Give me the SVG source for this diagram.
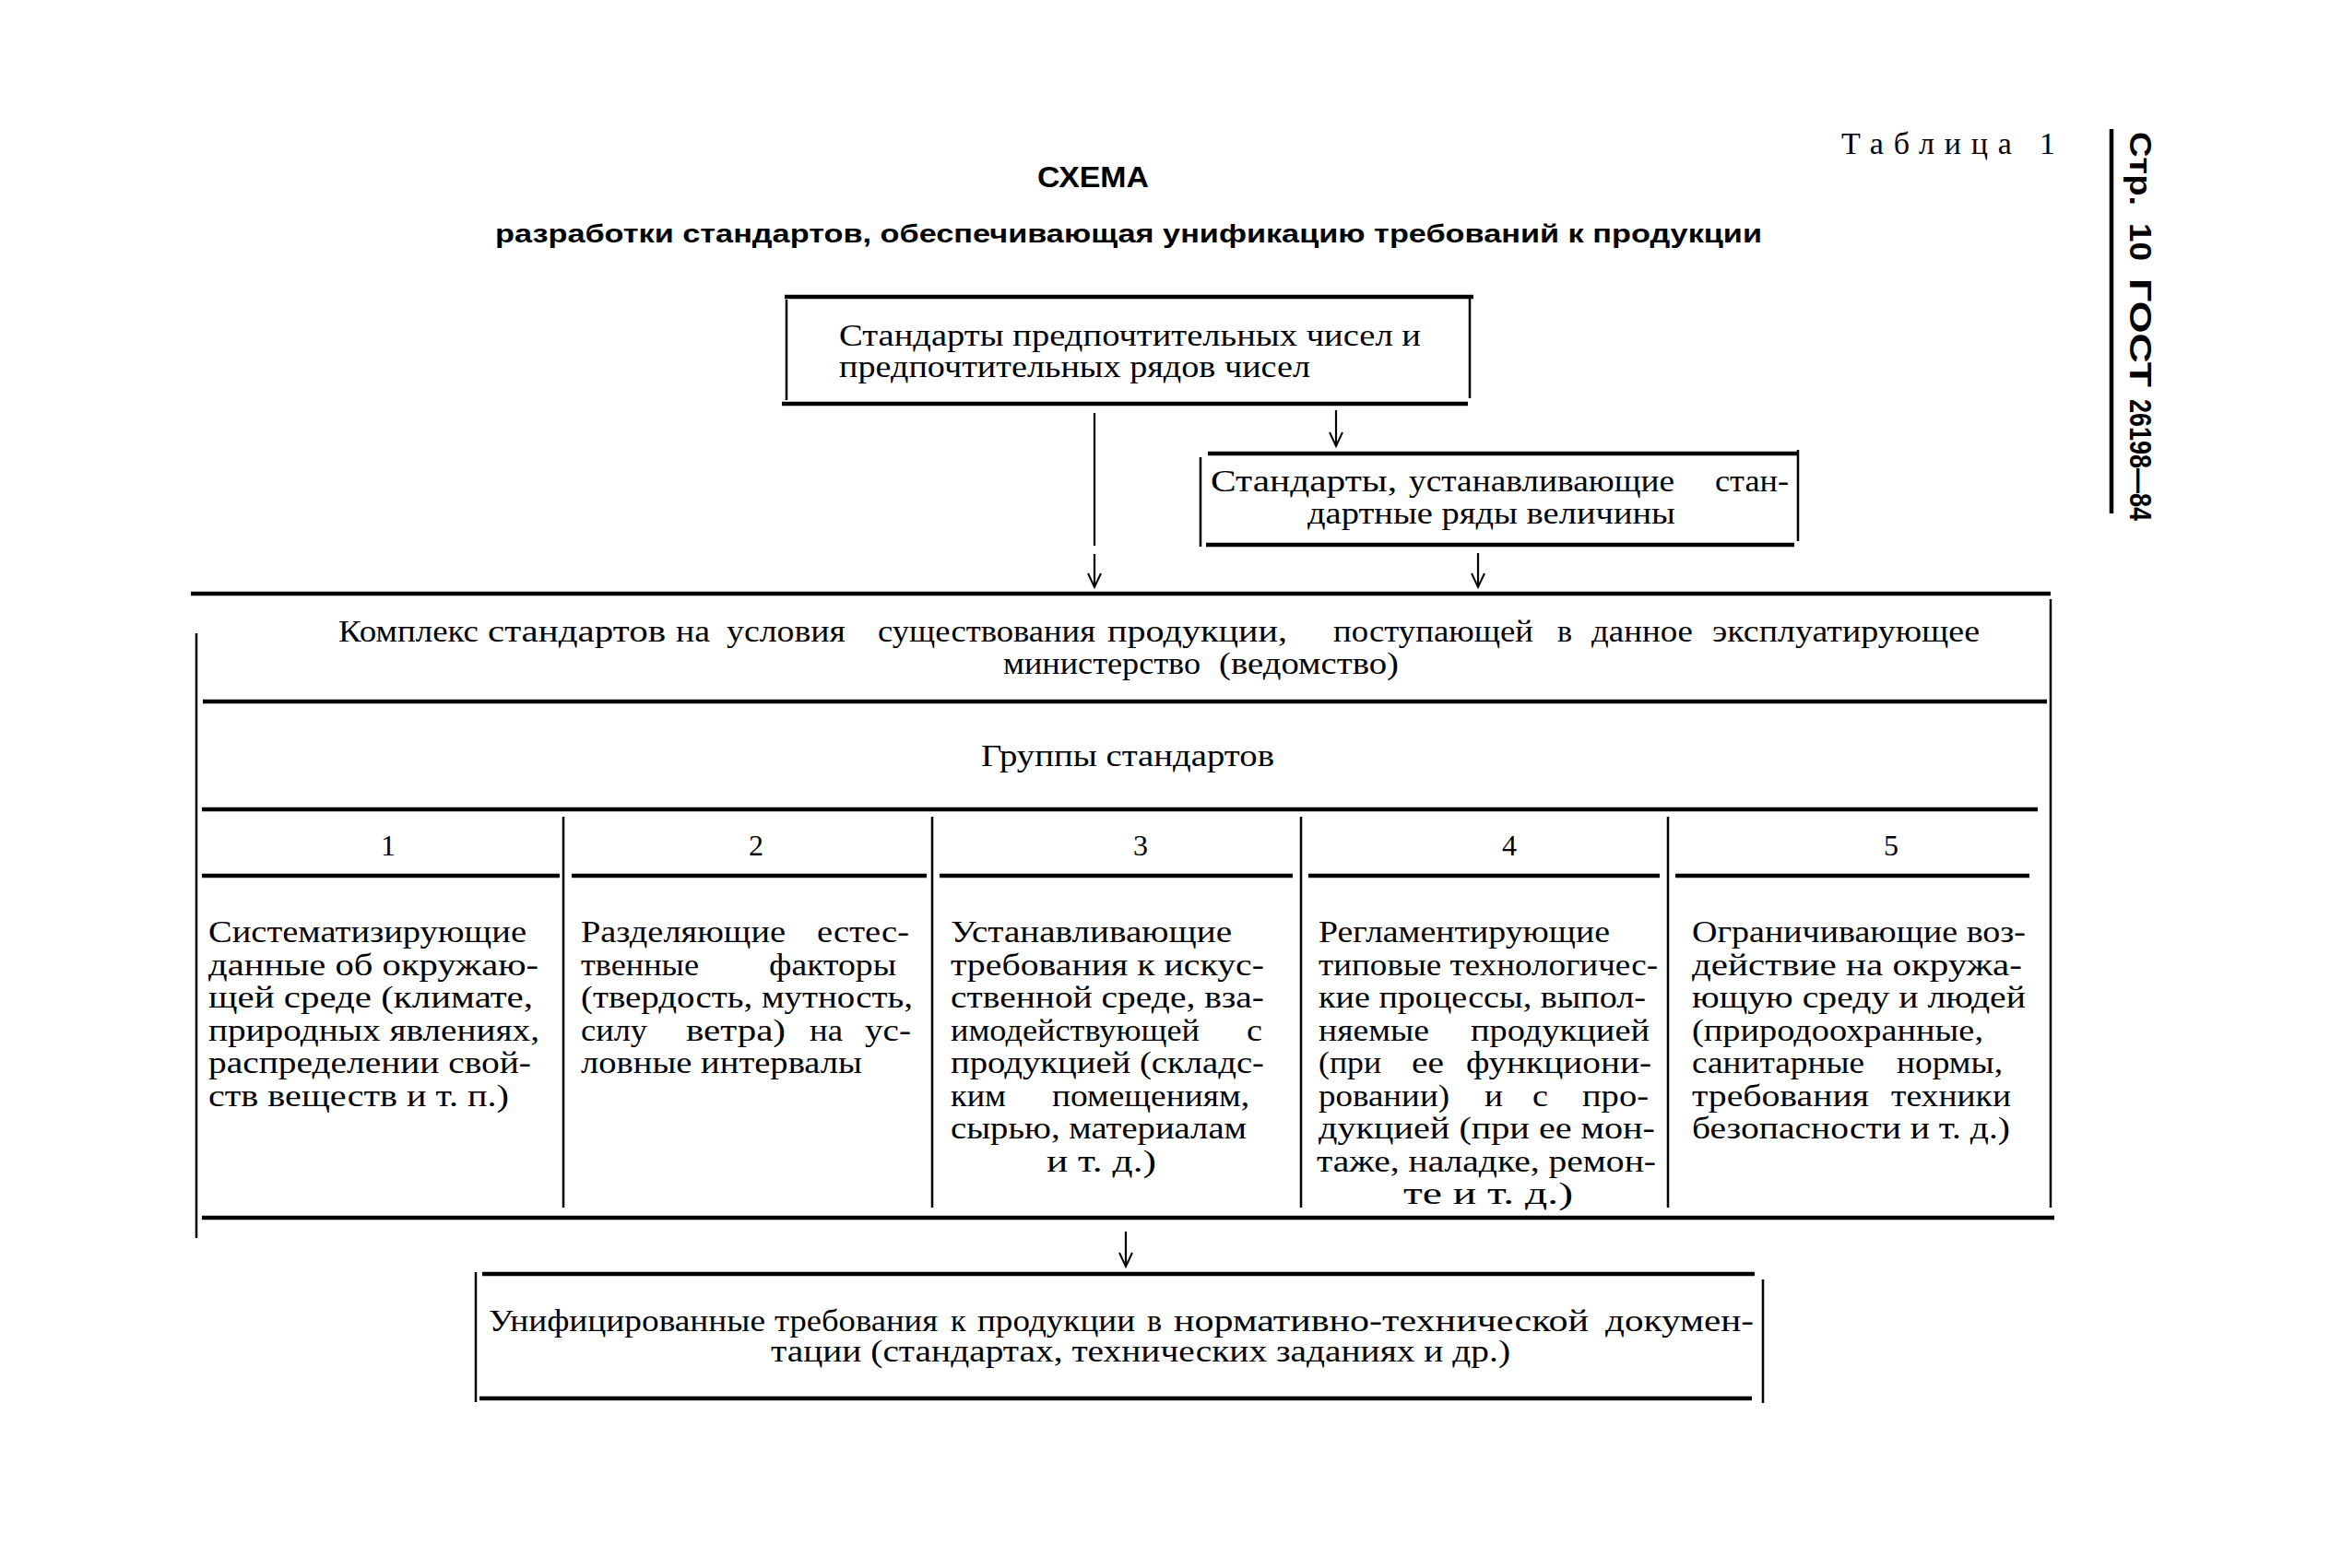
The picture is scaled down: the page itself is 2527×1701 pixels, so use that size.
<svg xmlns="http://www.w3.org/2000/svg" width="2527" height="1701" viewBox="0 0 2527 1701">
<style>
.t{font-family:"Liberation Serif","Times New Roman",serif;font-size:34px;fill:#000}
.c{font-family:"Liberation Serif","Times New Roman",serif;font-size:33px;fill:#000}
.e{text-anchor:end}
.n{font-family:"Liberation Serif","Times New Roman",serif;font-size:32px;fill:#000;text-anchor:middle}
.h{font-family:"Liberation Sans",Arial,sans-serif;font-weight:bold;fill:#000}
.rule{stroke:#000;stroke-width:4.5;fill:none}
.thin{stroke:#000;stroke-width:2.5;fill:none}
.conn{stroke:#000;stroke-width:2.2;fill:none}
</style>
<defs>
<marker id="arr" markerUnits="userSpaceOnUse" markerWidth="20" markerHeight="20" refX="0" refY="0" orient="auto" overflow="visible">
<path d="M-15,-7 L0,0 L-15,7" stroke="#000" stroke-width="2" fill="none"/>
</marker>
</defs>
<rect width="2527" height="1701" fill="#fff"/>

<g id="header">
<text class="t" x="1997" y="167" font-size="40" textLength="232" lengthAdjust="spacing">Таблица 1</text>
<text class="h" x="1125" y="203" font-size="32" textLength="121" lengthAdjust="spacingAndGlyphs">СХЕМА</text>
<text class="h" x="537" y="263" font-size="27" textLength="1374" lengthAdjust="spacingAndGlyphs">разработки стандартов, обеспечивающая унификацию требований к продукции</text>
<line class="rule" x1="2290" y1="140" x2="2290" y2="557" stroke-width="3.5"/>
<text class="h" font-size="33" transform="translate(2310,0) rotate(90)"><tspan x="143" y="0" textLength="80" lengthAdjust="spacingAndGlyphs">Стр.</tspan><tspan x="242" y="0" textLength="41" lengthAdjust="spacingAndGlyphs">10</tspan><tspan x="302" y="0" textLength="118" lengthAdjust="spacingAndGlyphs">ГОСТ</tspan><tspan x="433" y="0" textLength="132" lengthAdjust="spacingAndGlyphs">26198—84</tspan></text>
</g>

<g id="node-preferred-numbers">
<line class="rule" x1="851" y1="322" x2="1598" y2="322"/>
<line class="rule" x1="848" y1="438" x2="1592" y2="438"/>
<line class="thin" x1="853" y1="325" x2="853" y2="434"/>
<line class="thin" x1="1594" y1="322" x2="1594" y2="432"/>
<text class="t" x="910" y="375" textLength="631" lengthAdjust="spacingAndGlyphs">Стандарты предпочтительных чисел и</text>
<text class="t" x="910" y="409" textLength="511" lengthAdjust="spacingAndGlyphs">предпочтительных рядов чисел</text>
</g>

<g id="node-standard-series">
<line class="rule" x1="1310" y1="492" x2="1950" y2="492"/>
<line class="rule" x1="1308" y1="591" x2="1946" y2="591"/>
<line class="thin" x1="1302" y1="496" x2="1302" y2="593"/>
<line class="thin" x1="1950" y1="488" x2="1950" y2="587"/>
<text class="t" y="533"><tspan x="1313" textLength="202" lengthAdjust="spacingAndGlyphs">Стандарты,</tspan><tspan x="1528" textLength="288" lengthAdjust="spacingAndGlyphs">устанавливающие</tspan><tspan x="1860" textLength="80" lengthAdjust="spacingAndGlyphs">стан-</tspan></text>
<text class="t" x="1418" y="568" textLength="399" lengthAdjust="spacingAndGlyphs">дартные ряды величины</text>
</g>

<g id="node-complex">
<line class="rule" x1="207" y1="644" x2="2224" y2="644"/>
<line class="thin" x1="213" y1="687" x2="213" y2="1343" stroke-width="3"/>
<line class="thin" x1="2224" y1="650" x2="2224" y2="1310" stroke-width="3"/>
<text class="t" y="696"><tspan x="367" textLength="152" lengthAdjust="spacingAndGlyphs">Комплекс</tspan><tspan x="529" textLength="193" lengthAdjust="spacingAndGlyphs">стандартов</tspan><tspan x="733" textLength="37" lengthAdjust="spacingAndGlyphs">на</tspan><tspan x="788" textLength="129" lengthAdjust="spacingAndGlyphs">условия</tspan><tspan x="952" textLength="236" lengthAdjust="spacingAndGlyphs">существования</tspan><tspan x="1201" textLength="195" lengthAdjust="spacingAndGlyphs">продукции,</tspan><tspan x="1446" textLength="217" lengthAdjust="spacingAndGlyphs">поступающей</tspan><tspan x="1689">в</tspan><tspan x="1726" textLength="110" lengthAdjust="spacingAndGlyphs">данное</tspan><tspan x="1857" textLength="290" lengthAdjust="spacingAndGlyphs">эксплуатирующее</tspan></text>
<text class="t" y="731"><tspan x="1088" textLength="214" lengthAdjust="spacingAndGlyphs">министерство</tspan><tspan x="1322" textLength="195" lengthAdjust="spacingAndGlyphs">(ведомство)</tspan></text>
<line class="rule" x1="220" y1="761" x2="2220" y2="761"/>
</g>

<g id="node-groups">
<text class="t" x="1064" y="831" textLength="318" lengthAdjust="spacingAndGlyphs">Группы стандартов</text>
<line class="rule" x1="219" y1="878" x2="2210" y2="878"/>
<line class="thin" x1="611" y1="886" x2="611" y2="1310"/>
<line class="thin" x1="1011" y1="886" x2="1011" y2="1310"/>
<line class="thin" x1="1411" y1="886" x2="1411" y2="1310"/>
<line class="thin" x1="1809" y1="886" x2="1809" y2="1310"/>
<line class="rule" x1="219" y1="1321" x2="2228" y2="1321" stroke-width="5"/>
</g>

<g id="node-group-1">
<text class="n" x="421" y="928">1</text>
<line class="rule" x1="219" y1="950" x2="607" y2="950" stroke-width="4"/>
<text class="c" x="226" y="1022" textLength="345" lengthAdjust="spacingAndGlyphs">Систематизирующие</text>
<text class="c" x="226" y="1058" textLength="358" lengthAdjust="spacingAndGlyphs">данные об окружаю-</text>
<text class="c" x="226" y="1093" textLength="352" lengthAdjust="spacingAndGlyphs">щей среде (климате,</text>
<text class="c" x="226" y="1129" textLength="359" lengthAdjust="spacingAndGlyphs">природных явлениях,</text>
<text class="c" x="226" y="1164" textLength="350" lengthAdjust="spacingAndGlyphs">распределении свой-</text>
<text class="c" x="226" y="1200" textLength="326" lengthAdjust="spacingAndGlyphs">ств веществ и т. п.)</text>
</g>

<g id="node-group-2">
<text class="n" x="820" y="928">2</text>
<line class="rule" x1="620" y1="950" x2="1005" y2="950" stroke-width="4"/>
<text class="c" y="1022"><tspan x="630" textLength="222" lengthAdjust="spacingAndGlyphs">Разделяющие</tspan><tspan x="886" textLength="100" lengthAdjust="spacingAndGlyphs">естес-</tspan></text>
<text class="c" y="1058"><tspan x="630" textLength="128" lengthAdjust="spacingAndGlyphs">твенные</tspan><tspan x="834" textLength="138" lengthAdjust="spacingAndGlyphs">факторы</tspan></text>
<text class="c" x="630" y="1093" textLength="360" lengthAdjust="spacingAndGlyphs">(твердость, мутность,</text>
<text class="c" y="1129"><tspan x="630" textLength="72" lengthAdjust="spacingAndGlyphs">силу</tspan><tspan x="744" textLength="108" lengthAdjust="spacingAndGlyphs">ветра)</tspan><tspan x="878" textLength="36" lengthAdjust="spacingAndGlyphs">на</tspan><tspan x="938" textLength="50" lengthAdjust="spacingAndGlyphs">ус-</tspan></text>
<text class="c" x="630" y="1164" textLength="305" lengthAdjust="spacingAndGlyphs">ловные интервалы</text>
</g>

<g id="node-group-3">
<text class="n" x="1237" y="928">3</text>
<line class="rule" x1="1019" y1="950" x2="1402" y2="950" stroke-width="4"/>
<text class="c" x="1031" y="1022" textLength="305" lengthAdjust="spacingAndGlyphs">Устанавливающие</text>
<text class="c" x="1031" y="1058" textLength="340" lengthAdjust="spacingAndGlyphs">требования к искус-</text>
<text class="c" x="1031" y="1093" textLength="340" lengthAdjust="spacingAndGlyphs">ственной среде, вза-</text>
<text class="c" y="1129"><tspan x="1031" textLength="270" lengthAdjust="spacingAndGlyphs">имодействующей</tspan><tspan x="1352" textLength="17" lengthAdjust="spacingAndGlyphs">с</tspan></text>
<text class="c" x="1031" y="1164" textLength="340" lengthAdjust="spacingAndGlyphs">продукцией (складс-</text>
<text class="c" y="1200"><tspan x="1031" textLength="60" lengthAdjust="spacingAndGlyphs">ким</tspan><tspan x="1141" textLength="214" lengthAdjust="spacingAndGlyphs">помещениям,</tspan></text>
<text class="c" x="1031" y="1235" textLength="321" lengthAdjust="spacingAndGlyphs">сырью, материалам</text>
<text class="c" x="1135" y="1271" textLength="119" lengthAdjust="spacingAndGlyphs">и т. д.)</text>
</g>

<g id="node-group-4">
<text class="n" x="1637" y="928">4</text>
<line class="rule" x1="1419" y1="950" x2="1800" y2="950" stroke-width="4"/>
<text class="c" x="1430" y="1022" textLength="316" lengthAdjust="spacingAndGlyphs">Регламентирующие</text>
<text class="c" x="1430" y="1058" textLength="368" lengthAdjust="spacingAndGlyphs">типовые технологичес-</text>
<text class="c" x="1430" y="1093" textLength="355" lengthAdjust="spacingAndGlyphs">кие процессы, выпол-</text>
<text class="c" y="1129"><tspan x="1430" textLength="120" lengthAdjust="spacingAndGlyphs">няемые</tspan><tspan x="1595" textLength="194" lengthAdjust="spacingAndGlyphs">продукцией</tspan></text>
<text class="c" y="1164"><tspan x="1430" textLength="68" lengthAdjust="spacingAndGlyphs">(при</tspan><tspan x="1531" textLength="35" lengthAdjust="spacingAndGlyphs">ее</tspan><tspan x="1590" textLength="201" lengthAdjust="spacingAndGlyphs">функциони-</tspan></text>
<text class="c" y="1200"><tspan x="1430" textLength="142" lengthAdjust="spacingAndGlyphs">ровании)</tspan><tspan x="1610" textLength="20" lengthAdjust="spacingAndGlyphs">и</tspan><tspan x="1662" textLength="17" lengthAdjust="spacingAndGlyphs">с</tspan><tspan x="1716" textLength="72" lengthAdjust="spacingAndGlyphs">про-</tspan></text>
<text class="c" x="1430" y="1235" textLength="365" lengthAdjust="spacingAndGlyphs">дукцией (при ее мон-</text>
<text class="c" x="1428" y="1271" textLength="368" lengthAdjust="spacingAndGlyphs">таже, наладке, ремон-</text>
<text class="c" x="1522" y="1306" textLength="184" lengthAdjust="spacingAndGlyphs">те и т. д.)</text>
</g>

<g id="node-group-5">
<text class="n" x="2051" y="928">5</text>
<line class="rule" x1="1817" y1="950" x2="2201" y2="950" stroke-width="4"/>
<text class="c" x="1835" y="1022" textLength="362" lengthAdjust="spacingAndGlyphs">Ограничивающие воз-</text>
<text class="c" x="1835" y="1058" textLength="358" lengthAdjust="spacingAndGlyphs">действие на окружа-</text>
<text class="c" x="1835" y="1093" textLength="362" lengthAdjust="spacingAndGlyphs">ющую среду и людей</text>
<text class="c" x="1835" y="1129" textLength="316" lengthAdjust="spacingAndGlyphs">(природоохранные,</text>
<text class="c" y="1164"><tspan x="1835" textLength="187" lengthAdjust="spacingAndGlyphs">санитарные</tspan><tspan x="2057" textLength="115" lengthAdjust="spacingAndGlyphs">нормы,</tspan></text>
<text class="c" y="1200"><tspan x="1835" textLength="192" lengthAdjust="spacingAndGlyphs">требования</tspan><tspan x="2051" textLength="130" lengthAdjust="spacingAndGlyphs">техники</tspan></text>
<text class="c" x="1835" y="1235" textLength="345" lengthAdjust="spacingAndGlyphs">безопасности и т. д.)</text>
</g>

<g id="node-unified">
<line class="rule" x1="523" y1="1382" x2="1903" y2="1382"/>
<line class="rule" x1="520" y1="1517" x2="1900" y2="1517"/>
<line class="thin" x1="516" y1="1380" x2="516" y2="1521"/>
<line class="thin" x1="1912" y1="1388" x2="1912" y2="1522"/>
<text class="t" y="1444"><tspan x="530" textLength="300" lengthAdjust="spacingAndGlyphs">Унифицированные</tspan><tspan x="840" textLength="177" lengthAdjust="spacingAndGlyphs">требования</tspan><tspan x="1031">к</tspan><tspan x="1060" textLength="171" lengthAdjust="spacingAndGlyphs">продукции</tspan><tspan x="1244">в</tspan><tspan x="1273" textLength="450" lengthAdjust="spacingAndGlyphs">нормативно-технической</tspan><tspan x="1741" textLength="161" lengthAdjust="spacingAndGlyphs">докумен-</tspan></text>
<text class="t" x="836" y="1477" textLength="802" lengthAdjust="spacingAndGlyphs">тации (стандартах, технических заданиях и др.)</text>
</g>

<g id="connectors">
<path class="conn" d="M1187,448 V592"/>
<path class="conn" d="M1187,601 V637" marker-end="url(#arr)"/>
<path class="conn" d="M1449,445 V484" marker-end="url(#arr)"/>
<path class="conn" d="M1603,600 V637" marker-end="url(#arr)"/>
<path class="conn" d="M1221,1336 V1374" marker-end="url(#arr)"/>
</g>
</svg>
